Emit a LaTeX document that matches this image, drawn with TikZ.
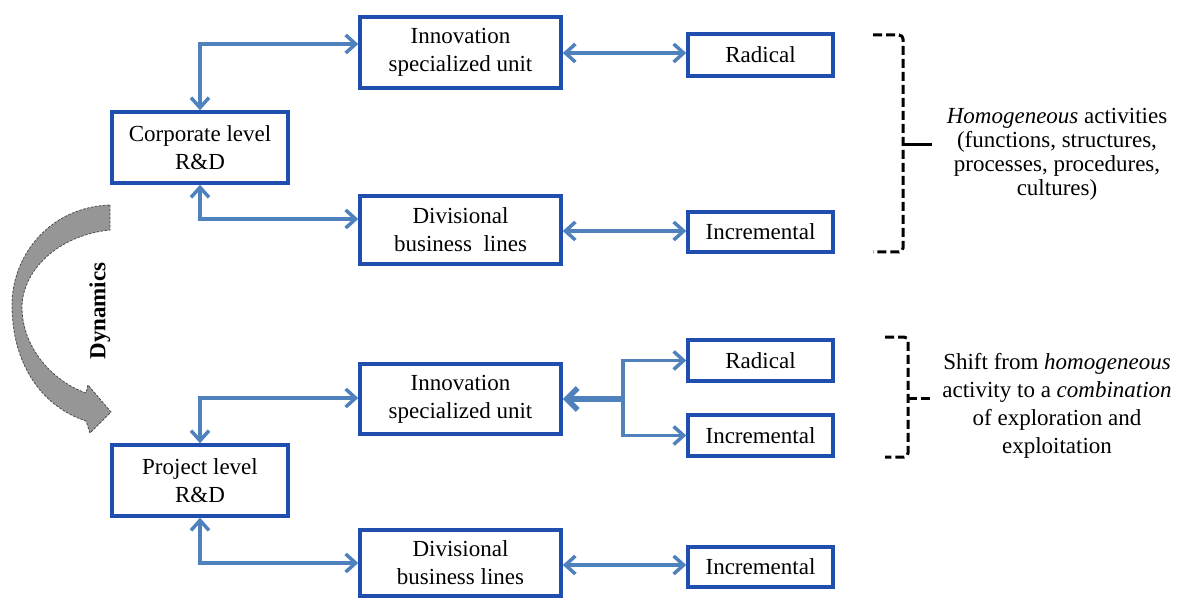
\documentclass[tikz,border=0pt]{standalone}
\usepackage{fontspec}
\setmainfont{Liberation Serif}
\usetikzlibrary{arrows.meta,calc}
\definecolor{boxblue}{RGB}{32,78,175}
\definecolor{arrblue}{RGB}{79,129,189}
\definecolor{dyngray}{RGB}{150,150,150}
\tikzset{
  box/.style={draw=boxblue,line width=3.5pt,fill=white,align=center,inner sep=2pt,
    font=\fontsize{23}{28}\selectfont},
  conn/.style={draw=arrblue,line width=3.5pt,
    arrows={Straight Barb[length=10pt,width=18pt]-Straight Barb[length=10pt,width=18pt]}},
  oneway/.style={draw=arrblue,line width=3.5pt,-{Straight Barb[length=10pt,width=18pt]}},
  brack/.style={draw=black,line width=3pt,dash pattern=on 9pt off 4pt,line cap=butt},
  note/.style={align=center,font=\fontsize{23}{24}\selectfont}
}
\begin{document}
\begin{tikzpicture}[x=1pt,y=-1pt]
\useasboundingbox (0,0) rectangle (1182,601);
% boxes
\node[box,minimum width=176pt,minimum height=71pt] (corp) at (200,147.5) {Corporate level\\R\&D};
\node[box,minimum width=201pt,minimum height=71pt] (innov1) at (460.5,52.5) {Innovation\\specialized unit};
\node[box,minimum width=201pt,minimum height=68pt] (div1) at (460.5,230) {Divisional\\business\ \ lines};
\node[box,minimum width=145pt,minimum height=42pt] (rad1) at (760.5,55) {Radical};
\node[box,minimum width=145pt,minimum height=40pt] (inc1) at (760.5,232) {Incremental};
\node[box,minimum width=176pt,minimum height=71pt] (proj) at (200,480.5) {Project level\\R\&D};
\node[box,minimum width=201pt,minimum height=70pt] (innov2) at (460.5,399) {Innovation\\specialized unit};
\node[box,minimum width=145pt,minimum height=41pt] (rad2) at (760.5,360.5) {Radical};
\node[box,minimum width=145pt,minimum height=41pt] (inc2) at (760.5,435.5) {Incremental};
\node[box,minimum width=201pt,minimum height=66pt] (div2) at (460.5,563) {Divisional\\business lines};
\node[box,minimum width=145pt,minimum height=40pt] (inc3) at (760.5,567) {Incremental};
% helper coordinates
\coordinate (c1) at (200,44);
\coordinate (c2) at (200,219);
\coordinate (c3) at (200,398);
\coordinate (c4) at (200,563);
\coordinate (j) at (623,399);
% connectors top
\draw[conn] (corp.north) -- (c1) -- (c1 -| innov1.west);
\draw[conn] (corp.south) -- (c2) -- (c2 -| div1.west);
\draw[conn] (innov1.east |- 0,53) -- (rad1.west |- 0,53);
\draw[conn] (div1.east |- 0,231) -- (inc1.west |- 0,231);
% connectors bottom
\draw[conn] (proj.north) -- (c3) -- (c3 -| innov2.west);
\draw[conn] (proj.south) -- (c4) -- (c4 -| div2.west);
\draw[conn] (div2.east |- 0,565) -- (inc3.west |- 0,565);
\draw[draw=arrblue,line width=5.5pt,-{Straight Barb[length=11pt,width=22pt]}] (j) -- (innov2.east);
\draw[oneway] (j) |- (rad2.west);
\draw[oneway] (j) |- (inc2.west);
% notes
\node[note] (hom) at (1057,154) {\textit{Homogeneous} activities\\(functions, structures,\\processes, procedures,\\cultures)};
\node[note,font=\fontsize{23}{28}\selectfont] (shift) at (1057,406) {Shift from \textit{homogeneous}\\activity to a \textit{combination}\\of exploration and\\exploitation};
% brackets
\coordinate (b1) at (903,145);
\coordinate (b2) at (908,398);
\draw[brack,rounded corners=4pt] (873,35) -- (903,35) -- (903,252) -- (873,252);
\draw[brack,solid] (b1) -- (b1 -| 932,0);
\draw[brack,rounded corners=4pt] (885,337) -- (908,337) -- (908,457) -- (885,457);
\draw[brack] (b2) -- (b2 -| 930,0);
% dynamics arrow
\draw[fill=dyngray,draw=black!70,line width=0.8pt,dash pattern=on 2.5pt off 1.5pt]
  (110,205) -- (110,230) .. controls (60,235) and (24,268) .. (22,305)
  .. controls (21,345) and (50,380) .. (86,393) -- (88,385) -- (111,412) -- (90,433)
  -- (86,421) .. controls (40,406) and (12,362) .. (12,305)
  .. controls (12,255) and (50,207) .. (110,205) -- cycle;
\node[rotate=90,font=\fontsize{23}{28}\selectfont\bfseries] (dyn) at (100,311) {Dynamics};
\end{tikzpicture}
\end{document}
